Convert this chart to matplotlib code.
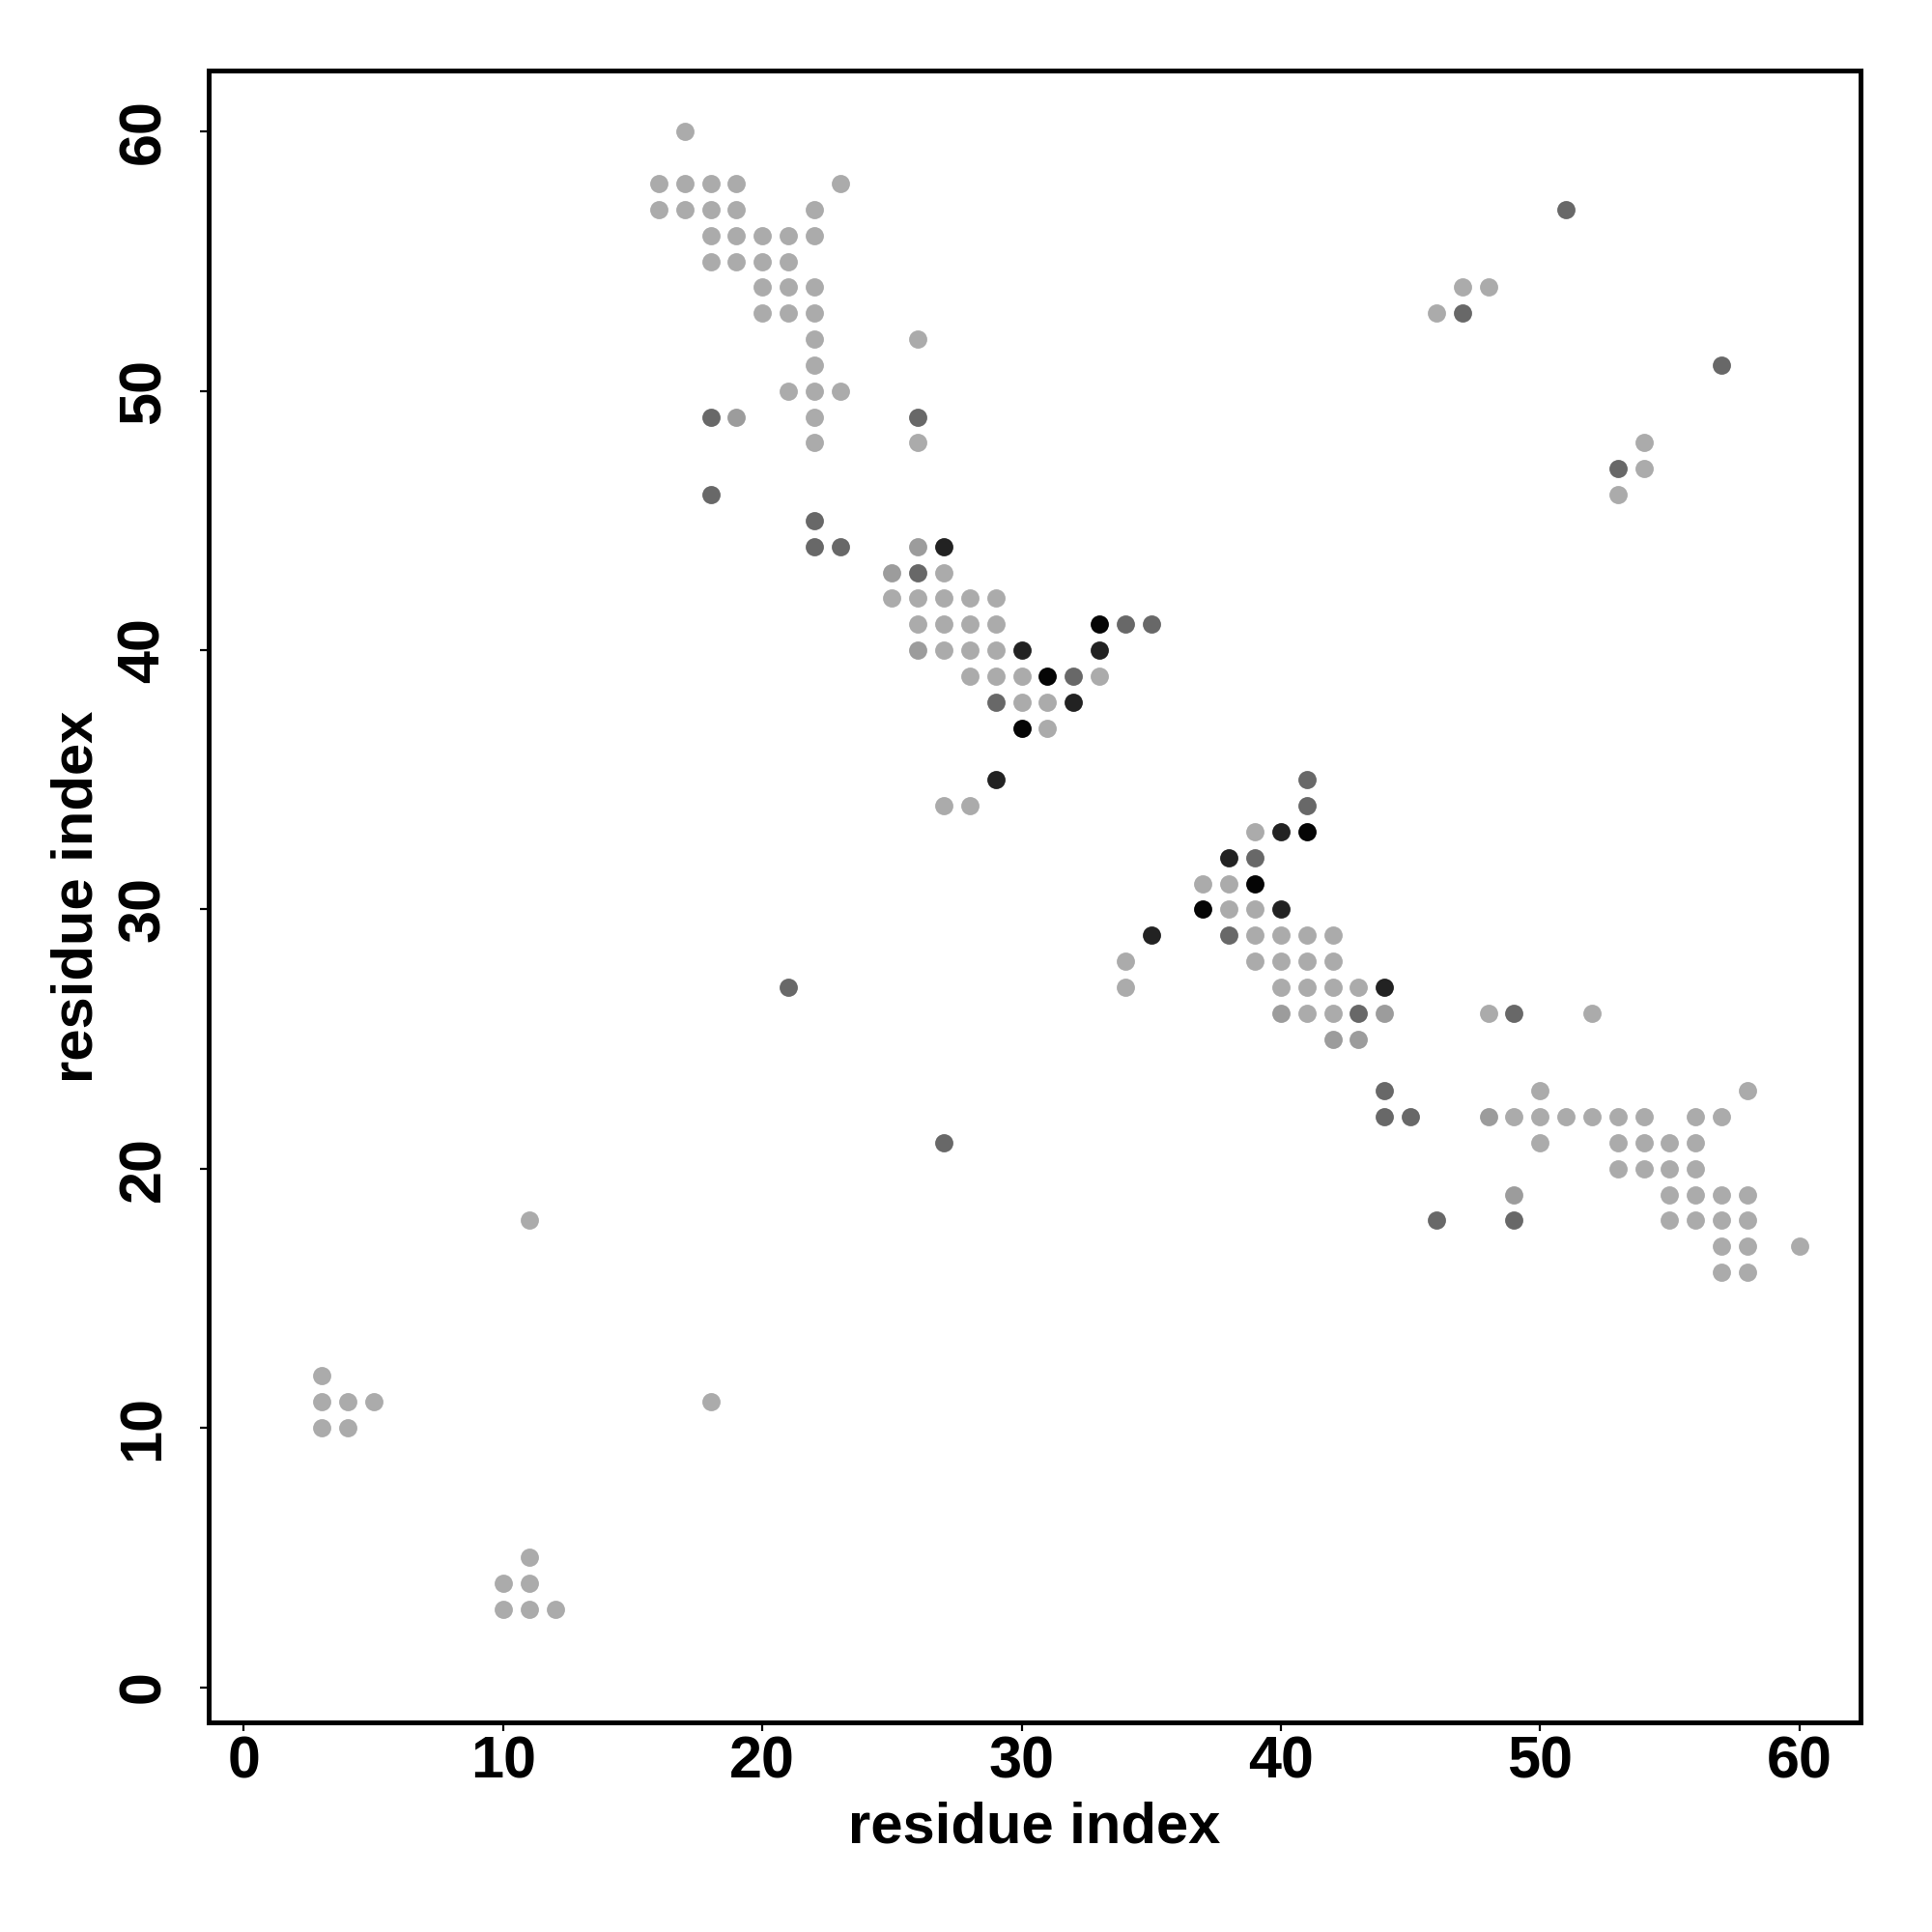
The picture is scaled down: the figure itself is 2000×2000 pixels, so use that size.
import matplotlib.pyplot as plt

# contact map: residue pairs grouped by grey level
black_x = [33, 31, 41, 39, 30, 37]
black_y = [41, 39, 33, 31, 37, 30]

vdark_x = [27, 30, 33, 32, 29, 40, 38, 40, 35, 44]
vdark_y = [44, 40, 40, 38, 35, 33, 32, 30, 29, 27]

dark_x = [18, 26, 18, 22, 22, 23, 26, 34, 35, 32, 29, 41, 41, 39, 38, 43, 44, 44, 45,
          21, 27, 49, 46, 49, 51, 47, 57, 53]
dark_y = [49, 49, 46, 45, 44, 44, 43, 41, 41, 39, 38, 35, 34, 32, 29, 26, 23, 22, 22,
          27, 21, 26, 18, 18, 57, 53, 51, 47]

mid_x = [19, 26, 25, 26, 40, 44, 42, 43, 48, 49]
mid_y = [49, 44, 43, 40, 26, 26, 25, 25, 22, 19]

light_x = [17,
           16, 17, 18, 19, 23,
           16, 17, 18, 19, 22,
           18, 19, 20, 21, 22,
           18, 19, 20, 21,
           20, 21, 22,
           20, 21, 22,
           22, 26,
           22,
           21, 22, 23,
           22,
           22, 26,
           27,
           25, 26, 27, 28, 29,
           26, 27, 28, 29,
           27, 28, 29,
           28, 29, 30, 33,
           30, 31,
           31,
           27, 28,
           39,
           37, 38,
           38, 39,
           39, 40, 41, 42,
           34, 39, 40, 41, 42,
           34, 40, 41, 42, 43,
           41, 42, 48, 52,
           50, 58,
           49, 50, 51, 52, 53, 54, 56, 57,
           50, 53, 54, 55, 56,
           53, 54, 55, 56,
           55, 56, 57, 58,
           11, 55, 56, 57, 58,
           57, 58, 60,
           57, 58,
           47, 48, 46, 54, 54, 53,
           3, 3, 4, 5, 3, 4, 18,
           11, 10, 11, 10, 11, 12]
light_y = [60,
           58, 58, 58, 58, 58,
           57, 57, 57, 57, 57,
           56, 56, 56, 56, 56,
           55, 55, 55, 55,
           54, 54, 54,
           53, 53, 53,
           52, 52,
           51,
           50, 50, 50,
           49,
           48, 48,
           43,
           42, 42, 42, 42, 42,
           41, 41, 41, 41,
           40, 40, 40,
           39, 39, 39, 39,
           38, 38,
           37,
           34, 34,
           33,
           31, 31,
           30, 30,
           29, 29, 29, 29,
           28, 28, 28, 28, 28,
           27, 27, 27, 27, 27,
           26, 26, 26, 26,
           23, 23,
           22, 22, 22, 22, 22, 22, 22, 22,
           21, 21, 21, 21, 21,
           20, 20, 20, 20,
           19, 19, 19, 19,
           18, 18, 18, 18, 18,
           17, 17, 17,
           16, 16,
           54, 54, 53, 48, 47, 46,
           12, 11, 11, 11, 10, 10, 11,
           5, 4, 4, 3, 3, 3]

groups = [
    (light_x, light_y, '#ababab'),
    (mid_x, mid_y, '#9c9c9c'),
    (dark_x, dark_y, '#686868'),
    (vdark_x, vdark_y, '#222222'),
    (black_x, black_y, '#050505'),
]

plt.rcParams['font.family'] = ['Liberation Sans', 'DejaVu Sans']
plt.rcParams['font.weight'] = 'bold'

fig = plt.figure(figsize=(10, 10), dpi=200)
ax = fig.add_axes([0.108, 0.1085, 0.855, 0.855])

for gx, gy, col in groups:
    ax.scatter(gx, gy, s=46, c=col, linewidths=0)

ax.set_xlim(-1.36, 62.36)
ax.set_ylim(-1.36, 62.36)
ax.set_xticks([0, 10, 20, 30, 40, 50, 60])
ax.set_yticks([0, 10, 20, 30, 40, 50, 60])

for sp in ax.spines.values():
    sp.set_linewidth(1.8)

ax.tick_params(axis='both', direction='out', length=3.4, width=0.8, labelsize=22)
ax.tick_params(axis='x', pad=1.5)
ax.tick_params(axis='y', pad=20.5, labelrotation=90)
for lbl in ax.get_yticklabels():
    lbl.set_ha('center')
    lbl.set_va('center')

ax.set_xlabel('residue index', fontsize=21.5, fontweight='bold', va='center')
ax.xaxis.set_label_coords(0.5, -0.0638)
ax.set_ylabel('residue index', fontsize=21.5, fontweight='bold', va='center')
ax.yaxis.set_label_coords(-0.0795, 0.5)

fig.savefig('out.png', dpi=200)
